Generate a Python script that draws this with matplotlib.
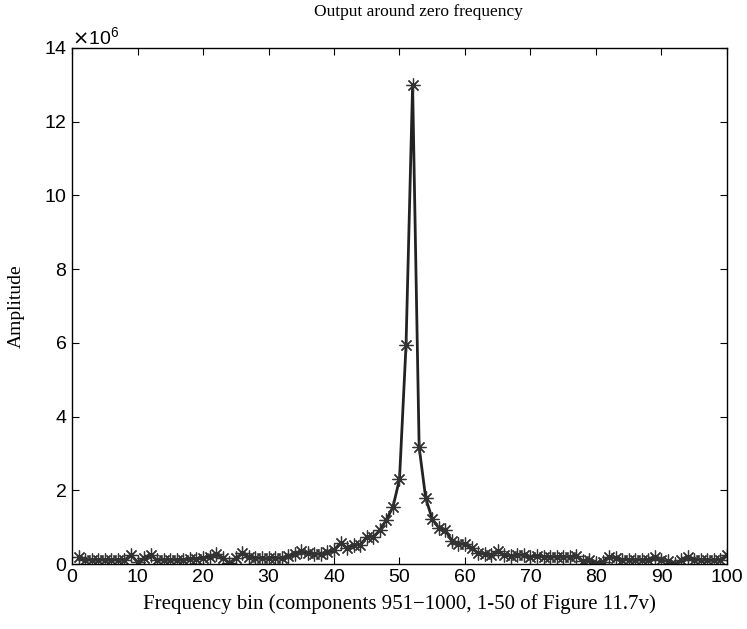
import numpy as np
import matplotlib
matplotlib.use('Agg')
import matplotlib.pyplot as plt

# ===================== data (amplitude in units of 1e6) =====================
freq_bin = list(range(1, 101))
amp_1e6 = [
    0.20, 0.10, 0.12, 0.10, 0.12, 0.10, 0.12, 0.10, 0.25, 0.05,
    0.15, 0.25, 0.10, 0.12, 0.10, 0.12, 0.10, 0.14, 0.14, 0.17,
    0.20, 0.28, 0.17, 0.03, 0.15, 0.30, 0.20, 0.17, 0.15, 0.15,
    0.17, 0.15, 0.22, 0.28, 0.35, 0.30, 0.27, 0.27, 0.33, 0.38,
    0.57, 0.43, 0.52, 0.52, 0.73, 0.73, 0.92, 1.20, 1.55, 2.30,
    5.95, 13.0, 3.17, 1.79, 1.22, 0.98, 0.92, 0.63, 0.54, 0.54,
    0.43, 0.30, 0.27, 0.25, 0.35, 0.24, 0.22, 0.24, 0.24, 0.20,
    0.22, 0.20, 0.18, 0.20, 0.18, 0.20, 0.22, 0.08, 0.10, 0.02,
    0.06, 0.20, 0.15, 0.12, 0.12, 0.10, 0.12, 0.10, 0.18, 0.10,
    0.08, 0.00, 0.10, 0.18, 0.10, 0.12, 0.10, 0.10, 0.12, 0.25,
]
amplitude = np.array(amp_1e6) * 1e6

serif = 'Liberation Serif'
sans = 'Liberation Sans'

fig = plt.figure(figsize=(7.47, 6.29), dpi=100)
ax = fig.add_axes([0.0964, 0.1033, 0.8768, 0.8204])

# MATLAB style asterisk markers
ax.plot(freq_bin, amplitude, color='#222222', linewidth=2.0,
        marker=(8, 2, 0), markersize=10, markeredgecolor='#333333',
        markeredgewidth=0.9)

ax.set_xlim(0, 100)
ax.set_ylim(0, 14e6)
ax.set_xticks(range(0, 101, 10))
ax.set_yticks(np.arange(0, 15, 2) * 1e6)
ax.ticklabel_format(axis='y', style='sci', scilimits=(6, 6), useMathText=True)
ax.yaxis.get_offset_text().set_fontsize(14)
ax.yaxis.get_offset_text().set_family(sans)

ax.tick_params(direction='in', top=True, right=True, length=5, width=0.8,
               labelsize=14)
for lab in ax.get_xticklabels() + ax.get_yticklabels():
    lab.set_family(sans)
for s in ax.spines.values():
    s.set_linewidth(1.0)

# title sits above the x10^6 label, slightly right of centre
fig.text(0.56, 0.981, 'Output around zero frequency', fontfamily=serif,
         fontsize=12.5, ha='center', va='center')
ax.set_xlabel('Frequency bin (components 951\u22121000, 1-50 of Figure 11.7v)',
              fontfamily=serif, fontsize=15, labelpad=6)
ax.set_ylabel('Amplitude', fontfamily=serif, fontsize=14, labelpad=14)

fig.savefig('out.png', dpi=100)
